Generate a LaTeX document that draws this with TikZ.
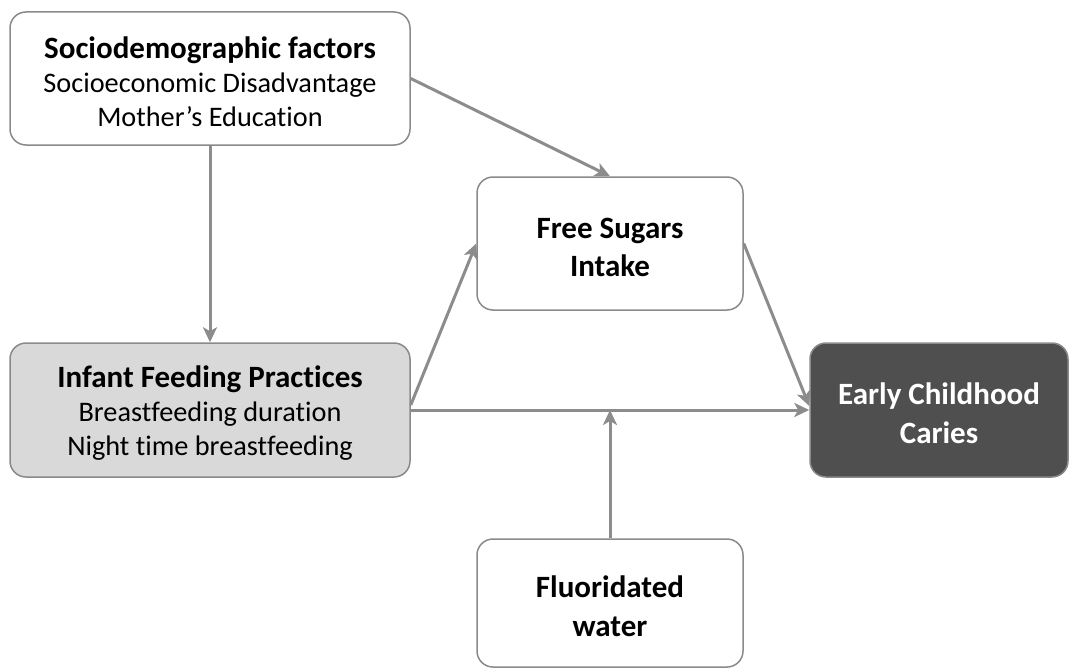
\documentclass[tikz,border=0pt]{standalone}
\usepackage{fontspec}
\setmainfont{Carlito}[Ligatures=NoCommon]
\usetikzlibrary{arrows.meta,calc}
\definecolor{edgegray}{HTML}{8C8C8C}
\definecolor{boxline}{HTML}{8A8A8A}
\definecolor{lightfill}{HTML}{D9D9D9}
\definecolor{darkfill}{HTML}{4F4F4F}
% heading line of a box, with a strut that sets the text a little lower
\newcommand{\boxhead}[1]{\rule{0pt}{28pt}{\fontsize{31}{34}\selectfont\bfseries #1}}
\begin{document}
\begin{tikzpicture}[x=1pt,y=-1pt,
  box/.style={draw=boxline, line width=1.5pt, rounded corners=16pt, align=center,
    inner sep=0pt, font=\fontsize{28.3}{34}\selectfont},
  twoline/.style={font=\fontsize{31}{38.5}\selectfont\bfseries},
  link/.style={draw=edgegray, line width=3pt,
    -{Stealth[length=15pt,width=14pt,inset=4pt]}}
]
\useasboundingbox (0,0) rectangle (1070,669);

\node[box, minimum width=400pt, minimum height=133pt] (socio) at (210,78.5)
  {\boxhead{Sociodemographic factors}\\Socioeconomic Disadvantage\\Mother’s Education};
\node[box, twoline, minimum width=266pt, minimum height=133pt] (sugar) at (610,243.5)
  {\boxhead{Free Sugars}\\Intake};
\node[box, fill=lightfill, minimum width=400pt, minimum height=134pt] (infant) at (210,410)
  {\boxhead{Infant Feeding Practices}\\Breastfeeding duration\\Night time breastfeeding};
\node[box, twoline, fill=darkfill, text=white, minimum width=258pt, minimum height=134pt] (ecc) at (939,410)
  {\boxhead{Early Childhood}\\Caries};
\node[box, twoline, minimum width=266pt, minimum height=128pt] (fluor) at (610,603)
  {\boxhead{Fluoridated}\\water};

\coordinate (meet) at (fluor.north |- infant.east);

\draw[link] (socio.south) -- (infant.north);
\draw[link] (socio.east) -- (sugar.north);
\draw[link] ($(infant.east)+(0,-5)$) -- (sugar.west);
\draw[link] (infant.east) -- (ecc.west);
\draw[link] (sugar.east) -- ($(ecc.west)+(0,-4)$);
\draw[link] (fluor.north) -- (meet);
\end{tikzpicture}
\end{document}
